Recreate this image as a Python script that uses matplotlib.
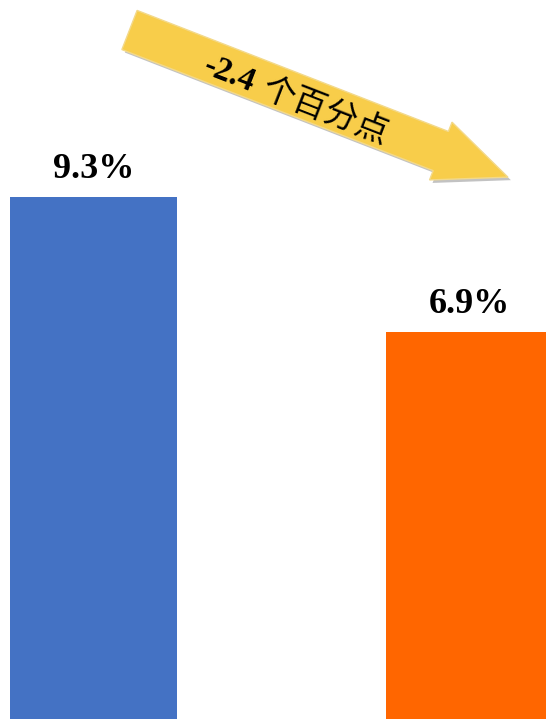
import numpy as np
import matplotlib
matplotlib.use("Agg")
import matplotlib.pyplot as plt
from matplotlib.patches import Polygon

categories = ["前", "后"]
values = [9.3, 6.9]
labels = ["9.3%", "6.9%"]
colors = ["#4472C4", "#FF6600"]
change_num = "-2.4"
change_unit = "个百分点"

W, H = 546, 719
fig = plt.figure(figsize=(W / 100, H / 100), dpi=100)
ax = fig.add_axes([0, 0, 1, 1])
x = np.arange(len(values))
ax.bar(x, values, width=0.444, color=colors, zorder=2)
ax.set_xlim(-0.2486, 1.2035)
ax.set_ylim(0, 12.81)
ax.axis("off")

for xi, v, lab in zip(x, values, labels):
    ax.annotate(lab, (xi, v), xytext=(0, 8), textcoords="offset points",
                ha="center", va="bottom", fontsize=26, fontweight="bold",
                family="Liberation Serif", color="black")

# decorative arrow, in pixel coords
ang = np.deg2rad(21.25)
u = np.array([np.cos(ang), np.sin(ang)])
vv = np.array([-np.sin(ang), np.cos(ang)])
origin = np.array([129.5, 30.0])
sw, hw, base, tip = 21, 31, 334, 406
local = [(0, -sw), (base, -sw), (base, -hw), (tip, 0), (base, hw), (base, sw), (0, sw)]
pts = np.array([origin + a * u + b * vv for a, b in local])

def to_fig(p):
    return np.column_stack([p[:, 0] / W, 1 - p[:, 1] / H])

shadow = Polygon(to_fig(pts + np.array([3, 3])), closed=True, transform=fig.transFigure,
                 facecolor="#9a9a9a", edgecolor="none", alpha=0.6, zorder=3)
arrow = Polygon(to_fig(pts), closed=True, transform=fig.transFigure,
                facecolor="#F8CD4A", edgecolor="#F3D98A", linewidth=1, zorder=4)
fig.patches.extend([shadow, arrow])

rot = -np.rad2deg(ang)
fig.text(229 / W, 1 - 75 / H, change_num, rotation=rot, rotation_mode="anchor",
         ha="center", va="center", fontsize=24, fontweight="bold",
         family="Liberation Serif", color="black", zorder=5)
fig.text(326 / W, 1 - 112 / H, change_unit, rotation=rot, rotation_mode="anchor",
         ha="center", va="center", fontsize=24,
         family=["Noto Sans CJK SC", "DejaVu Sans"], color="black", zorder=5)

fig.savefig("out.png", dpi=100)
